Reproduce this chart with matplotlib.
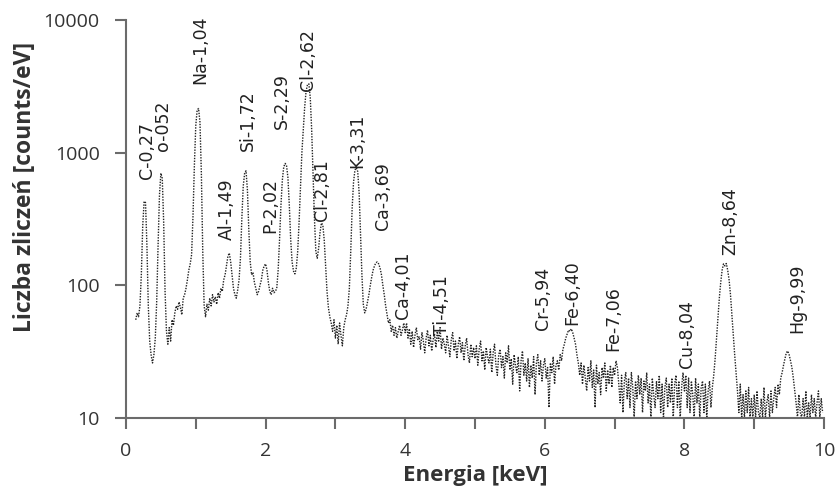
import numpy as np
import matplotlib.pyplot as plt

# --- spectrum data (counts/eV), channel step 0.02 keV starting at 0.14 keV ---
E_START = 0.14
E_STEP = 0.02

counts_low = [
    55, 62, 58, 70, 120, 280, 430, 420, 200, 70,        # 0.14 - 0.32
    38, 30, 26, 30, 40, 75, 200, 480, 700, 640,         # 0.34 - 0.52
    300, 90, 45, 36, 48, 38, 55, 50, 62, 70,            # 0.54 - 0.72
    66, 75, 68, 60, 80, 85, 95, 110, 130, 145,          # 0.74 - 0.92
    170, 330, 800, 1600, 2100, 2150, 1700, 700, 180, 70,  # 0.94 - 1.12
    58, 72, 65, 80, 70, 85, 75, 82, 72, 88,             # 1.14 - 1.32
    80, 95, 90, 110, 120, 140, 165, 175, 150, 120,      # 1.34 - 1.52
    95, 85, 80, 92, 110, 160, 320, 560, 700, 730,       # 1.54 - 1.72
    520, 260, 150, 120, 125, 105, 95, 85, 90, 100,      # 1.74 - 1.92
    110, 130, 140, 145, 130, 105, 90, 85, 95, 88,       # 1.94 - 2.12
    90, 95, 130, 220, 400, 620, 780, 830, 800, 650,     # 2.14 - 2.32
    400, 220, 150, 128, 122, 135, 180, 300, 550, 1000,  # 2.34 - 2.52
    1500, 2200, 2900, 3250, 3300, 2600, 1500, 700, 320, 180,  # 2.54 - 2.72
    160, 190, 250, 295, 285, 220, 140, 90, 68, 58,      # 2.74 - 2.92
    52, 45, 55, 40, 50, 36, 52, 42, 35, 48,             # 2.94 - 3.12
    55, 60, 70, 95, 180, 380, 600, 740, 770, 720,       # 3.14 - 3.32
    500, 250, 120, 72, 62, 66, 75, 85, 100, 115,        # 3.34 - 3.52
    130, 140, 148, 150, 145, 135, 120, 100, 85, 70,     # 3.54 - 3.72
    60, 52, 55, 45, 50, 42, 48, 40, 45, 50,             # 3.74 - 3.92
    42, 46, 52,                                         # 3.94 - 3.98
]

counts_high = [
    44, 52, 40, 47, 36, 45, 34, 42, 48, 39,   # 4.00
    41, 33, 44, 38, 31, 40, 46, 35, 42, 32,   # 4.20
    39, 43, 34, 45, 38, 48, 33, 40, 36, 31,   # 4.40
    42, 35, 29, 39, 44, 32, 38, 28, 36, 41,   # 4.60
    31, 37, 27, 35, 40, 30, 26, 36, 29, 34,   # 4.80
    28, 35, 25, 33, 38, 27, 32, 23, 34, 29,   # 5.00
    26, 33, 22, 31, 36, 25, 21, 30, 33, 24,   # 5.20
    29, 20, 31, 26, 35, 23, 28, 18, 30, 25,   # 5.40
    22, 29, 16, 27, 32, 21, 26, 19, 28, 17,   # 5.60
    25, 20, 29, 15, 26, 30, 21, 27, 19, 25,   # 5.80
    28, 20, 24, 12, 26, 22, 29, 18, 25, 27,   # 6.00
    23, 30, 27, 33, 36, 40, 43, 46, 45, 47,   # 6.20
    44, 40, 36, 30, 26, 21, 26, 18, 25, 20,   # 6.40
    16, 24, 19, 27, 17, 23, 12, 25, 18, 22,   # 6.60
    15, 24, 20, 26, 16, 23, 18, 25, 17, 24,   # 6.80
    21, 27, 24, 18, 13, 21, 11, 19, 22, 14,   # 7.00
    20, 12, 22, 17, 10, 19, 14, 21, 15, 20,   # 7.20
    11, 19, 16, 22, 13, 18, 10, 20, 15, 12,   # 7.40
    19, 14, 21, 11, 18, 10, 17, 20, 12, 18,   # 7.60
    13, 20, 10, 18, 21, 12, 19, 10, 17, 22,   # 7.80
    16, 21, 12, 20, 11, 19, 15, 10, 20, 13,   # 8.00
    18, 10, 17, 19, 11, 18, 10, 16, 19, 12,   # 8.20
    17, 21, 28, 40, 58, 80, 105, 130, 145, 140,  # 8.40
    146, 130, 110, 85, 60, 42, 30, 22, 16, 11,   # 8.60
    18, 10, 15, 10, 16, 11, 17, 10, 14, 10,   # 8.80
    15, 10, 16, 11, 10, 14, 10, 17, 10, 13,   # 9.00
    15, 10, 16, 11, 14, 17, 12, 18, 15, 20,   # 9.20
    22, 25, 28, 31, 32, 30, 27, 24, 20, 16,   # 9.40
    13, 10, 15, 11, 10, 14, 10, 16, 10, 13,   # 9.60
    10, 15, 11, 14, 10, 13, 16, 10, 14, 11,   # 9.80
]

# --- peak labels ---
peak_labels = ['C-0,27', 'o-052', 'Na-1,04', 'Al-1,49', 'Si-1,72', 'P-2,02',
               'S-2,29', 'Cl-2,62', 'Cl-2,81', 'K-3,31', 'Ca-3,69', 'Ca-4,01',
               'Ti-4,51', 'Cr-5,94', 'Fe-6,40', 'Fe-7,06', 'Cu-8,04', 'Zn-8,64',
               'Hg-9,99']
label_x = [0.30, 0.53, 1.06, 1.45, 1.75, 2.06, 2.235, 2.61, 2.81, 3.32, 3.68,
           3.97, 4.53, 5.97, 6.40, 6.98, 8.04, 8.65, 9.61]
label_y = [638, 1035, 3300, 218, 1035, 246, 1515, 2925, 308, 771, 259,
           56, 42, 46, 50, 32, 24, 168, 44]

x_ticks = [0, 2, 4, 6, 8, 10]
y_ticks = [10, 100, 1000, 10000]
y_ticklabels = ['10', '100', '1000', '10000']

counts = np.array(counts_low + counts_high, dtype=float)
energy = E_START + E_STEP * np.arange(len(counts))

axis_grey = '#6b6b6b'

fig = plt.figure(figsize=(8.37, 4.99), dpi=100)
ax = fig.add_axes([0.1505, 0.1623, 0.834, 0.7977])

ax.plot(energy, counts, color='#222222', lw=1.0, linestyle=(0, (1, 1)))

ax.set_yscale('log')
ax.set_xlim(0, 10)
ax.set_ylim(10, 10000)

for s in ['top', 'right']:
    ax.spines[s].set_visible(False)
for s in ['left', 'bottom']:
    ax.spines[s].set_color(axis_grey)
    ax.spines[s].set_linewidth(1.5)

ax.set_xticks(x_ticks)
ax.set_xticks([1, 3, 5, 7, 9], minor=True)
ax.set_yticks(y_ticks)
ax.set_yticklabels(y_ticklabels)
ax.yaxis.set_minor_locator(plt.NullLocator())
ax.tick_params(axis='both', which='both', direction='out', length=8, width=1.5,
               color=axis_grey, labelsize=14, labelcolor='#333333')
ax.tick_params(axis='y', pad=11)
ax.tick_params(axis='x', pad=9)
for lab in ax.get_xticklabels() + ax.get_yticklabels():
    lab.set_family('Open Sans')

ax.set_xlabel('Energia [keV]', fontsize=16, fontweight='bold', family='Open Sans',
              color='#333333', labelpad=4)
ax.set_ylabel('Liczba zliczeń [counts/eV]', fontsize=16.5, fontweight='bold',
              family='Open Sans', color='#333333')
ax.yaxis.set_label_coords(-0.128, 0.58)

for txt, lx, ly in zip(peak_labels, label_x, label_y):
    ax.text(lx, ly, txt, rotation=90, ha='center', va='bottom', fontsize=12.5,
            family='DejaVu Sans', color='#222222')

fig.savefig('out.png', dpi=100)
